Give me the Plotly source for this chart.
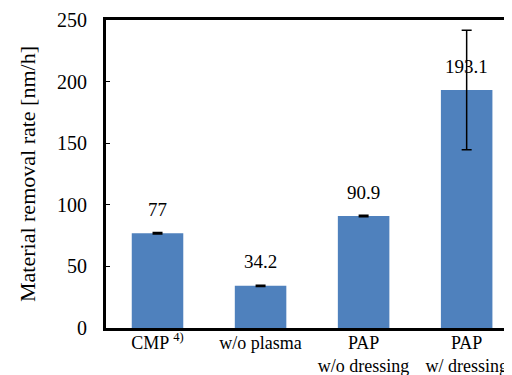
import plotly.graph_objects as go

categories = ["CMP <sup>4)</sup>", "w/o plasma", "PAP<br>w/o dressing", "PAP<br>w/ dressing"]
values = [77, 34.2, 90.9, 193.1]
errors = [0.6, 0.6, 0.6, 48.5]
value_labels = ["77", "34.2", "90.9", "193.1"]

FONT = "Liberation Serif, Times New Roman, serif"
fig = go.Figure()
fig.add_trace(go.Bar(
    x=list(range(len(categories))), y=values, width=0.5,
    marker=dict(color="#4F81BD", line=dict(width=0)),
    error_y=dict(type="data", array=errors, visible=True, color="black", thickness=1.5, width=5),
))
for i, (v, t) in enumerate(zip(values, value_labels)):
    fig.add_annotation(x=i, y=v, text=t, showarrow=False, yshift=24,
                       font=dict(family=FONT, size=19, color="black"))

fig.update_layout(
    width=504, height=367,
    margin=dict(l=98, r=0, t=12, b=47),
    plot_bgcolor="white", paper_bgcolor="white",
    showlegend=False,
    font=dict(family=FONT, color="black"),
)
fig.update_xaxes(
    tickmode="array", tickvals=list(range(len(categories))), ticktext=categories,
    range=[-0.5, 3.44], showline=True, linecolor="black", linewidth=3, mirror=True,
    ticks="", showgrid=False, automargin=False, ticklabelstandoff=-4,
    tickfont=dict(family=FONT, size=18, color="black"),
)
fig.update_yaxes(
    range=[0, 250], tickvals=[0, 50, 100, 150, 200, 250],
    showline=True, linecolor="black", linewidth=3, ticks="inside", ticklen=4,
    tickcolor="black", showgrid=False, zeroline=False, automargin=False,
    ticklabelstandoff=12,
    tickfont=dict(family=FONT, size=20, color="black"),
    title=dict(text="Material removal rate [nm/h]", font=dict(family=FONT, size=22, color="black"), standoff=16),
)
fig.write_html("out.html")
